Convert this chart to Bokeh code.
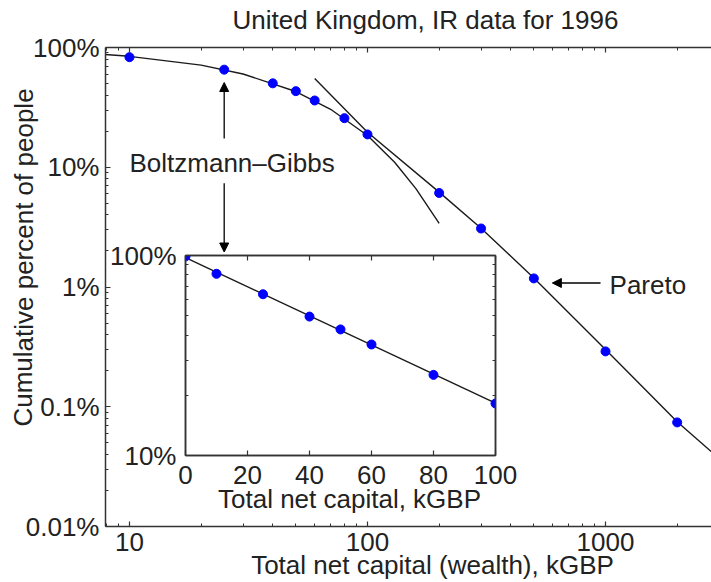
from bokeh.plotting import figure
from bokeh.models import (Range1d, FixedTicker, LogAxis, LinearAxis, Label,
                          Arrow, NormalHead)
from bokeh.embed import file_html
from bokeh.resources import INLINE

# ---------------- data ----------------
main_capital = [10, 25, 40, 50, 60, 80, 100, 200, 300, 500, 1000, 2000]
main_percent = [83, 65.3, 50.2, 43.2, 36.1, 25.7, 18.8, 6.1, 3.08, 1.18, 0.29, 0.074]

bg_curve_capital = [7.5, 10, 20, 30, 50, 70, 100, 130, 160, 200]
bg_curve_percent = [88.1, 84.4, 71.3, 60.1, 42.9, 30.5, 18.4, 11.0, 6.6, 3.4]

pareto_capital = [60, 100, 200, 300, 500, 1000, 2000, 2790]
pareto_percent = [55, 19.6, 6.2, 3.1, 1.19, 0.30, 0.075, 0.042]

inset_capital = [0, 10, 25, 40, 50, 60, 80, 100]
inset_percent = [99, 81, 64, 49.5, 42.7, 35.9, 25.3, 18.2]
inset_fit_capital = [0, 100]
inset_fit_percent = [97.5, 18.3]

main_x_ticks = [10, 100, 1000]
main_x_labels = ["10", "100", "1000"]
main_y_ticks = [0.01, 0.1, 1, 10, 100]
main_y_labels = ["0.01%", "0.1%", "1%", "10%", "100%"]
inset_x_ticks = [0, 20, 40, 60, 80, 100]
inset_x_labels = ["0", "20", "40", "60", "80", "100"]
inset_y_ticks = [10, 100]
inset_y_labels = ["10%", "100%"]

title_text = "United Kingdom, IR data for 1996"
main_xlabel = "Total net capital (wealth), kGBP"
main_ylabel = "Cumulative percent of people"
inset_xlabel = "Total net capital, kGBP"

FONT = "Liberation Sans"
FS = "26px"
TXT = "#222222"
AX = "#333333"
DOT = "#0000ff"
W, H = 711, 582

main_x_minor = [m * 10 ** k for k in range(0, 4) for m in range(2, 10)]
main_y_minor = [m * 10.0 ** k for k in range(-2, 2) for m in range(2, 10)]
inset_y_minor = [m * 10 for m in range(2, 10)]


def style_axis(ax, ticks, minor, labels, standoff=5, show_labels=True):
    ax.ticker = FixedTicker(ticks=ticks, minor_ticks=minor)
    if show_labels:
        ax.major_label_overrides = {t: s for t, s in zip(ticks, labels)}
        ax.major_label_text_font_size = FS
        ax.major_label_standoff = standoff
    else:
        ax.major_label_overrides = {t: "" for t in ticks}
        ax.major_label_text_font_size = "1px"
        ax.major_label_standoff = 0
    ax.major_tick_in = 5
    ax.major_tick_out = 0
    ax.minor_tick_in = 3
    ax.minor_tick_out = 0
    ax.axis_line_width = 1.5
    ax.axis_line_color = AX
    ax.major_tick_line_color = AX
    ax.minor_tick_line_color = AX
    ax.major_tick_line_width = 1.2
    ax.minor_tick_line_width = 1
    ax.major_label_text_font = FONT
    ax.major_label_text_color = TXT


def add_text(fig, **kw):
    base = dict(text_font=FONT, text_font_size=FS, text_color=TXT,
                text_baseline="alphabetic")
    base.update(kw)
    fig.add_layout(Label(**base))


# ---------------- main figure ----------------
p = figure(width=W, height=H, x_axis_type="log", y_axis_type="log",
           x_range=Range1d(7.93, 2788), y_range=Range1d(0.01, 100),
           output_backend="svg", toolbar_location=None,
           min_border_left=105, min_border_top=47, min_border_right=0,
           min_border_bottom=56)
p.outline_line_color = None
p.grid.visible = False
p.background_fill_color = "white"
p.border_fill_color = "white"
p.styles = {"position": "absolute", "left": "0px", "top": "0px"}

style_axis(p.xaxis[0], main_x_ticks, main_x_minor, main_x_labels, standoff=6)
style_axis(p.yaxis[0], main_y_ticks, main_y_minor, main_y_labels, standoff=6)
top_axis = LogAxis()
style_axis(top_axis, main_x_ticks, main_x_minor, main_x_labels, show_labels=False)
p.add_layout(top_axis, "above")

p.line(bg_curve_capital, bg_curve_percent, line_color="#1a1a1a", line_width=1.4)
p.line(pareto_capital, pareto_percent, line_color="#1a1a1a", line_width=1.4)
p.scatter(main_capital, main_percent, size=9, fill_color=DOT, line_color=DOT)

add_text(p, x=10, y=10.8, text="Boltzmann\u2013Gibbs", text_align="left")
add_text(p, x=1040, y=1.04, text="Pareto", text_align="left")

head = dict(size=9, fill_color="black", line_color="black")
p.add_layout(Arrow(end=NormalHead(**head), x_start=25, y_start=17.4,
                   x_end=25, y_end=51, line_color="black", line_width=1.3))
p.add_layout(Arrow(end=NormalHead(**head), x_start=25, y_start=7.36,
                   x_end=25, y_end=1.96, line_color="black", line_width=1.3))
p.add_layout(Arrow(end=NormalHead(**head), x_start=953, y_start=1.08,
                   x_end=598, y_end=1.08, line_color="black", line_width=1.3))

# ---------------- inset figure ----------------
inset = figure(width=423, height=275, y_axis_type="log",
               x_range=Range1d(0, 100), y_range=Range1d(10, 100),
               output_backend="svg", toolbar_location=None,
               min_border_left=78, min_border_top=15, min_border_right=35,
               min_border_bottom=60)
inset.background_fill_alpha = 0
inset.border_fill_alpha = 0
inset.grid.visible = False
inset.outline_line_color = AX
inset.outline_line_width = 1.5
inset.styles = {"position": "absolute", "left": "107px", "top": "240px"}

style_axis(inset.xaxis[0], inset_x_ticks, [], inset_x_labels, standoff=10)
style_axis(inset.yaxis[0], inset_y_ticks, inset_y_minor, inset_y_labels, standoff=9)
in_top = LinearAxis()
style_axis(in_top, inset_x_ticks, [], inset_x_labels, show_labels=False)
inset.add_layout(in_top, "above")
in_right = LogAxis()
style_axis(in_right, inset_y_ticks, inset_y_minor, inset_y_labels, show_labels=False)
inset.add_layout(in_right, "right")

inset.line(inset_fit_capital, inset_fit_percent, line_color="#1a1a1a", line_width=1.4)
inset.scatter(inset_capital, inset_percent, size=9, fill_color=DOT, line_color=DOT)

# ---------------- text layer (titles and axis titles, page pixels) ----------------
ann = figure(width=W, height=H, x_range=Range1d(0, W), y_range=Range1d(H, 0),
             x_axis_location=None, y_axis_location=None,
             output_backend="svg", toolbar_location=None,
             min_border=0, min_border_left=0, min_border_right=0,
             min_border_top=0, min_border_bottom=0)
ann.outline_line_color = None
ann.background_fill_alpha = 0
ann.border_fill_alpha = 0
ann.grid.visible = False
ann.styles = {"position": "absolute", "left": "0px", "top": "0px",
              "pointer-events": "none"}

add_text(ann, x=425, y=19, text=title_text, text_align="center")
add_text(ann, x=432, y=564, text=main_xlabel, text_align="center")
add_text(ann, x=23, y=257, text=main_ylabel, text_align="center", angle=1.5707963)
add_text(ann, x=349, y=498, text=inset_xlabel, text_align="center")

open("out.html", "w").write(file_html([p, inset, ann], INLINE))
